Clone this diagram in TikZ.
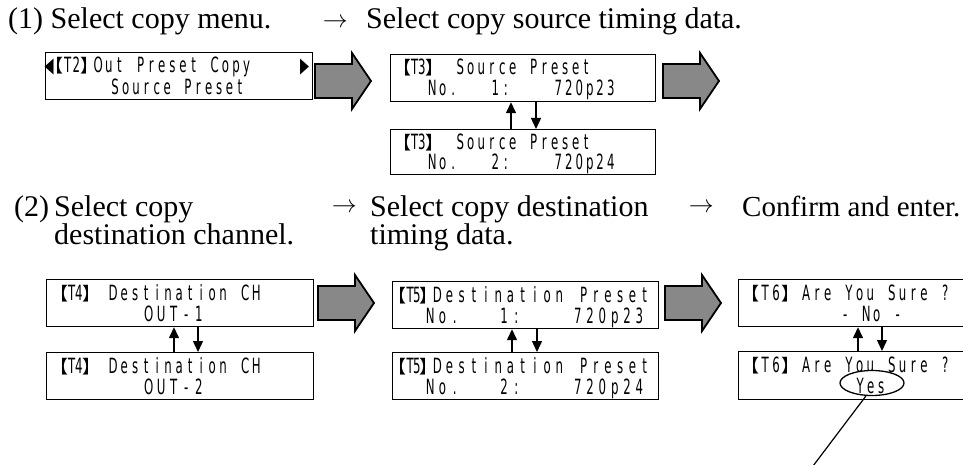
\documentclass[tikz,border=0pt]{standalone}
\usepackage{fontspec}
\setmainfont{Liberation Serif}
\newfontfamily\lcdfont{DejaVu Sans}[FakeStretch=0.56]
\newfontfamily\lcdcjk{Noto Sans CJK JP}
\usetikzlibrary{arrows.meta,shapes.geometric}

% One LCD character per fixed-width cell; "_" marks an empty cell.
\ExplSyntaxOn
\dim_new:N \l_lcd_pitch_dim
\NewDocumentCommand \lcd { O{10.5pt} m }
  {
    \dim_set:Nn \l_lcd_pitch_dim {#1}
    \str_map_inline:nn {#2}
      {
        \str_if_eq:nnTF {##1} {_}
          { \hbox_to_wd:nn { \l_lcd_pitch_dim } { } }
          { \hbox_to_wd:nn { \l_lcd_pitch_dim } { \hfil ##1 \hfil } }
      }
  }
\ExplSyntaxOff

% Screen tag such as [T3] with heavy lenticular brackets
\newcommand\lcdtag[2][7pt]{%
  \makebox[#1][r]{\lcdcjk\fontsize{18pt}{18pt}\selectfont 【}%
  \lcd[#1]{#2}%
  \makebox[#1][l]{\lcdcjk\fontsize{18pt}{18pt}\selectfont 】}}

\definecolor{arrowgray}{RGB}{136,136,136}

\tikzset{
  heading/.style={anchor=base west, inner sep=0, align=left,
                  font=\fontsize{30pt}{28pt}\selectfont},
  nextsign/.style={anchor=base west, inner sep=0, font=\fontsize{25pt}{25pt}\selectfont},
  lcdbox/.style={draw, line width=1.2pt, anchor=north west, inner sep=0,
                 minimum width=267pt, minimum height=47pt},
  lcdtxt/.style={anchor=base west, inner sep=0, font=\lcdfont\fontsize{21pt}{21pt}\selectfont},
  flip/.style={line width=1.4pt, -{Triangle[length=11pt,width=10pt]}},
  blockarr/.pic={
    \draw[line width=1.8pt, fill=arrowgray, line join=miter]
      (0,-17) -- (37,-17) -- (37,-28) -- (56,0) -- (37,28) -- (37,17) -- (0,17) -- cycle;
  }
}

\begin{document}
\begin{tikzpicture}[x=1pt, y=-1pt]
\useasboundingbox (0,0) rectangle (963,465);
\fill[white] (0,0) rectangle (963,465);
\clip (0,0) rectangle (963,465);

% ---------- step headings ----------
\node[heading] (h1) at (8,29) {(1) Select copy menu.};
\node[nextsign] (n1) at (322.6,28) {$\rightarrow$};
\node[heading] (h1b) at (366,29) {Select copy source timing data.};

% two-line headings: the base anchor sits on the last line
\node[heading] (h2n) at (14,216) {(2)};
\node[heading] (h2a) at (54,244) {Select copy\\destination channel.};
\node[nextsign] (n2) at (331.6,212) {$\rightarrow$};
\node[heading] (h3a) at (370,244) {Select copy destination\\timing data.};
\node[nextsign] (n3) at (688.6,212) {$\rightarrow$};
\node[heading, font=\fontsize{29pt}{28pt}\selectfont] (h4) at (742,216) {Confirm and enter.};

% ---------- T2 : copy menu ----------
\node[lcdbox] (t2) at (45,52) {};
\node[lcdtxt] (t2l) at (44.5,73) {\lcd[8pt]{◀}};
\node[lcdtxt] (t2g) at (54.8,73) {\lcdtag[8.5pt]{T2}};
\node[lcdtxt] (t2a) at (92.7,73) {\lcd[10.6pt]{Out_Preset_Copy}};
\node[lcdtxt] (t2r) at (300,73) {\lcd[8pt]{▶}};
\node[lcdtxt] (t2b) at (109.8,94.5) {\lcd[10.4pt]{Source_Preset}};

% ---------- T3 : source timing ----------
\node[lcdbox, minimum width=265pt] (t3a) at (390,54) {};
\node[lcdtxt] (t3ag) at (404,75) {\lcdtag{T3}};
\node[lcdtxt] (t3a1) at (454.8,75) {\lcd{Source_Preset}};
\node[lcdtxt] (t3a2) at (426.8,96) {\lcd{No.___1:____720p23}};

\node[lcdbox, minimum width=265pt, minimum height=45pt] (t3b) at (390,129) {};
\node[lcdtxt] (t3bg) at (404,150) {\lcdtag{T3}};
\node[lcdtxt] (t3b1) at (454.8,150) {\lcd{Source_Preset}};
\node[lcdtxt] (t3b2) at (426.8,170) {\lcd{No.___2:____720p24}};

\draw[flip] (511,0 |- t3b.north) -- (511,0 |- t3a.south);
\draw[flip] (536,0 |- t3a.south) -- (536,0 |- t3b.north);

% ---------- T4 : destination channel ----------
\node[lcdbox] (t4a) at (46,279) {};
\node[lcdtxt] (t4ag) at (61,300) {\lcdtag{T4}};
\node[lcdtxt] (t4a1) at (107.5,300) {\lcd[11pt]{Destination_CH}};
\node[lcdtxt] (t4a2) at (142.3,321) {\lcd[12.5pt]{OUT-1}};

\node[lcdbox] (t4b) at (46,352) {};
\node[lcdtxt] (t4bg) at (61,373) {\lcdtag{T4}};
\node[lcdtxt] (t4b1) at (107.5,373) {\lcd[11pt]{Destination_CH}};
\node[lcdtxt] (t4b2) at (142.3,394) {\lcd[12.5pt]{OUT-2}};

\draw[flip] (174,0 |- t4b.north) -- (174,0 |- t4a.south);
\draw[flip] (198,0 |- t4a.south) -- (198,0 |- t4b.north);

% ---------- T5 : destination timing ----------
\node[lcdbox, minimum width=266pt] (t5a) at (392,281) {};
\node[lcdtxt] (t5ag) at (400,302) {\lcdtag[6.5pt]{T5}};
\node[lcdtxt] (t5a1) at (431,302) {\lcd[12.2pt]{Destination_Preset}};
\node[lcdtxt] (t5a2) at (423.9,323) {\lcd[12.3pt]{No.___1:____720p23}};

\node[lcdbox, minimum width=266pt] (t5b) at (392,352) {};
\node[lcdtxt] (t5bg) at (400,373) {\lcdtag[6.5pt]{T5}};
\node[lcdtxt] (t5b1) at (431,373) {\lcd[12.2pt]{Destination_Preset}};
\node[lcdtxt] (t5b2) at (423.9,394) {\lcd[12.3pt]{No.___2:____720p24}};

\draw[flip] (512,0 |- t5b.north) -- (512,0 |- t5a.south);
\draw[flip] (537,0 |- t5a.south) -- (537,0 |- t5b.north);

% ---------- T6 : confirmation ----------
\node[lcdbox, minimum width=260pt] (t6a) at (738,279) {};
\node[lcdtxt] (t6ag) at (748.5,300) {\lcdtag[11pt]{T6}};
\node[lcdtxt] (t6a1) at (800.7,300) {\lcd[10.7pt]{Are_You_Sure_?}};
\node[lcdtxt] (t6a2) at (839.8,321) {\lcd{-_No_-}};

\node[lcdbox, minimum width=260pt, minimum height=48pt] (t6b) at (738,351) {};
\node[lcdtxt] (t6bg) at (748.5,372) {\lcdtag[11pt]{T6}};
\node[lcdtxt] (t6b1) at (800.7,372) {\lcd[10.7pt]{Are_You_Sure_?}};
\node[draw, ellipse, fill=white, line width=1.3pt, inner sep=0,
      minimum width=64pt, minimum height=25pt] (yesmark) at (872,383) {};
\node[lcdtxt] (t6b2) at (854.8,393) {\lcd{Yes}};

\draw[flip] (858,0 |- t6b.north) -- (858,0 |- t6a.south);
\draw[flip] (882,0 |- t6a.south) -- (882,0 |- t6b.north);

\coordinate (leadend) at (810,470);
\draw[line width=1.2pt] (yesmark.245) -- (leadend);

% ---------- block arrows between screens ----------
\pic at (315,81) {blockarr};
\pic at (663,81) {blockarr};
\pic at (318,303) {blockarr};
\pic at (665,303) {blockarr};
\end{tikzpicture}
\end{document}
